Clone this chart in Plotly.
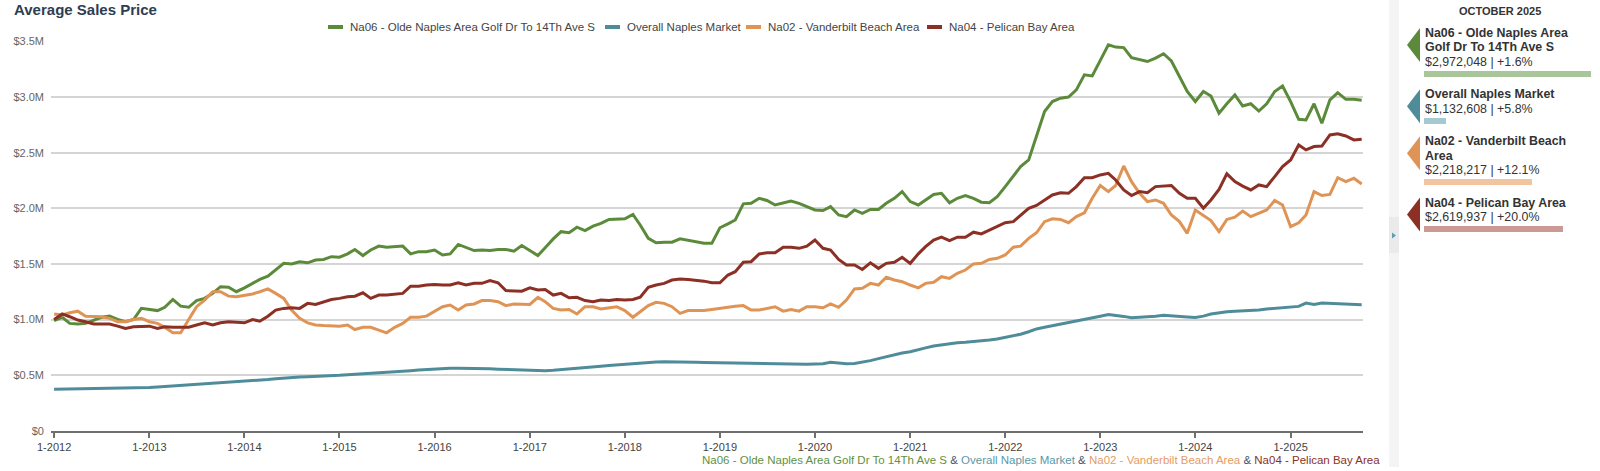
import textwrap
import pandas as pd
import plotly.graph_objects as go

W, H = 1600, 471

# ---------------- data (values in $ millions, monthly from Jan 2012) ----------------
START_MONTH = "2012-01-01"
AS_OF_LABEL = "OCTOBER 2025"

SERIES_NAMES = [
    "Na06 - Olde Naples Area Golf Dr To 14Th Ave S",
    "Overall Naples Market",
    "Na02 - Vanderbilt Beach Area",
    "Na04 - Pelican Bay Area",
]

na06 = [
    0.99, 1.02, 0.965, 0.96, 0.965, 0.99, 1.02, 1.03, 1.0, 0.98, 1.0, 1.10,
    1.09, 1.08, 1.11, 1.18, 1.12, 1.11, 1.17, 1.19, 1.235, 1.295, 1.29, 1.25,
    1.285, 1.325, 1.36, 1.39, 1.445, 1.505, 1.50, 1.52, 1.51, 1.535, 1.54, 1.565,
    1.56, 1.59, 1.63, 1.575, 1.625, 1.66, 1.65, 1.655, 1.66, 1.59, 1.61, 1.61,
    1.625, 1.58, 1.59, 1.675, 1.65, 1.62, 1.625, 1.62, 1.63, 1.63, 1.615, 1.665,
    1.62, 1.575, 1.645, 1.725, 1.79, 1.78, 1.83, 1.80, 1.84, 1.865, 1.90, 1.90,
    1.905, 1.945, 1.85, 1.73, 1.69, 1.695, 1.695, 1.725, 1.71, 1.70, 1.685, 1.685,
    1.825, 1.86, 1.895, 2.04, 2.045, 2.09, 2.07, 2.03, 2.05, 2.065, 2.045, 2.015,
    1.985, 1.98, 2.015, 1.94, 1.925, 1.985, 1.955, 1.99, 1.99, 2.045, 2.09, 2.15,
    2.06, 2.03, 2.075, 2.125, 2.135, 2.05, 2.09, 2.115, 2.09, 2.055, 2.05, 2.105,
    2.195, 2.285, 2.375, 2.435, 2.645, 2.87, 2.96, 2.99, 3.00, 3.065, 3.20, 3.19,
    3.33, 3.47, 3.45, 3.445, 3.355, 3.335, 3.32, 3.35, 3.39, 3.325, 3.185, 3.05,
    2.96, 3.05, 3.01, 2.855, 2.94, 3.02, 2.92, 2.94, 2.875, 2.94, 3.05, 3.10,
    2.96, 2.80, 2.795, 2.94, 2.765, 2.975, 3.04, 2.98, 2.98, 2.972048,
]

overall = [
    0.372, 0.373, 0.375, 0.377, 0.378, 0.380, 0.381, 0.380, 0.380, 0.382, 0.384, 0.385,
    0.388, 0.392, 0.396, 0.402, 0.408, 0.412, 0.418, 0.424, 0.428, 0.432, 0.436, 0.440,
    0.442, 0.445, 0.452, 0.460, 0.468, 0.474, 0.478, 0.482, 0.485, 0.487, 0.490, 0.494,
    0.498, 0.503, 0.508, 0.513, 0.518, 0.522, 0.526, 0.531, 0.536, 0.540, 0.545, 0.550,
    0.555, 0.558, 0.561, 0.562, 0.562, 0.560, 0.558, 0.556, 0.553, 0.550, 0.548, 0.546,
    0.545, 0.542, 0.540, 0.543, 0.548, 0.555, 0.562, 0.568, 0.573, 0.580, 0.587, 0.593,
    0.598, 0.603, 0.608, 0.612, 0.617, 0.620, 0.620, 0.618, 0.617, 0.615, 0.613, 0.612,
    0.610, 0.608, 0.605, 0.603, 0.602, 0.601, 0.600, 0.599, 0.598, 0.597, 0.598, 0.598,
    0.600, 0.603, 0.615, 0.608, 0.602, 0.604, 0.615, 0.630, 0.648, 0.665, 0.683, 0.698,
    0.710, 0.725, 0.745, 0.762, 0.772, 0.780, 0.790, 0.795, 0.800, 0.808, 0.815, 0.825,
    0.838, 0.852, 0.868, 0.890, 0.915, 0.930, 0.945, 0.958, 0.975, 0.990, 1.005, 1.018,
    1.030, 1.045, 1.040, 1.028, 1.015, 1.018, 1.025, 1.030, 1.038, 1.035, 1.030, 1.022,
    1.018, 1.030, 1.050, 1.062, 1.070, 1.075, 1.078, 1.080, 1.085, 1.095, 1.100, 1.108,
    1.112, 1.118, 1.148, 1.135, 1.148, 1.145, 1.140, 1.135, 1.130, 1.132608,
]

na02 = [
    1.05, 1.04, 1.06, 1.075, 1.03, 1.025, 1.025, 1.01, 0.98, 0.98, 1.0, 1.01,
    0.98, 0.965, 0.93, 0.88, 0.88, 1.0, 1.115, 1.175, 1.25, 1.25, 1.21, 1.205,
    1.215, 1.23, 1.25, 1.275, 1.235, 1.19, 1.085, 1.01, 0.97, 0.95, 0.945, 0.94,
    0.94, 0.95, 0.91, 0.93, 0.93, 0.905, 0.88, 0.93, 0.965, 1.02, 1.02, 1.03,
    1.075, 1.115, 1.13, 1.085, 1.13, 1.14, 1.17, 1.17, 1.16, 1.125, 1.14, 1.135,
    1.135, 1.20, 1.16, 1.10, 1.085, 1.09, 1.05, 1.115, 1.115, 1.095, 1.105, 1.115,
    1.08, 1.02, 1.07, 1.125, 1.155, 1.145, 1.115, 1.055, 1.08, 1.08, 1.08, 1.09,
    1.10, 1.115, 1.12, 1.125, 1.085, 1.085, 1.10, 1.115, 1.075, 1.09, 1.075, 1.115,
    1.115, 1.105, 1.14, 1.11, 1.175, 1.275, 1.28, 1.325, 1.31, 1.38, 1.355, 1.34,
    1.31, 1.285, 1.325, 1.335, 1.385, 1.37, 1.415, 1.445, 1.50, 1.505, 1.54, 1.55,
    1.58, 1.65, 1.66, 1.73, 1.78, 1.88, 1.905, 1.90, 1.87, 1.925, 1.96, 2.09,
    2.205, 2.15, 2.205, 2.38, 2.24, 2.135, 2.06, 2.075, 2.045, 1.94, 1.88, 1.775,
    1.985, 1.94, 1.89, 1.79, 1.90, 1.92, 1.975, 1.925, 1.955, 1.985, 2.07, 2.03,
    1.835, 1.87, 1.94, 2.15, 2.115, 2.125, 2.275, 2.24, 2.27, 2.218217,
]

na04 = [
    1.0, 1.05, 1.025, 0.995, 0.98, 0.96, 0.96, 0.96, 0.94, 0.92, 0.935, 0.94,
    0.94, 0.92, 0.935, 0.93, 0.93, 0.93, 0.95, 0.97, 0.95, 0.97, 0.98, 0.975,
    0.97, 1.0, 0.985, 1.03, 1.085, 1.10, 1.105, 1.10, 1.145, 1.135, 1.16, 1.18,
    1.19, 1.205, 1.21, 1.24, 1.19, 1.22, 1.22, 1.23, 1.235, 1.30, 1.30, 1.31,
    1.315, 1.31, 1.31, 1.33, 1.31, 1.325, 1.325, 1.35, 1.33, 1.26, 1.26, 1.255,
    1.285, 1.265, 1.27, 1.22, 1.235, 1.195, 1.20, 1.17, 1.16, 1.175, 1.17, 1.18,
    1.175, 1.18, 1.20, 1.29, 1.31, 1.325, 1.355, 1.365, 1.36, 1.355, 1.345, 1.33,
    1.33, 1.40, 1.43, 1.515, 1.52, 1.59, 1.60, 1.60, 1.65, 1.65, 1.64, 1.66,
    1.715, 1.64, 1.625, 1.54, 1.49, 1.49, 1.45, 1.51, 1.46, 1.505, 1.515, 1.56,
    1.505, 1.59, 1.655, 1.715, 1.74, 1.71, 1.74, 1.74, 1.785, 1.77, 1.805, 1.835,
    1.87, 1.88, 1.94, 2.00, 2.025, 2.07, 2.12, 2.14, 2.135, 2.195, 2.275, 2.275,
    2.30, 2.315, 2.255, 2.165, 2.115, 2.15, 2.14, 2.195, 2.20, 2.205, 2.135, 2.09,
    2.09, 2.00, 2.075, 2.17, 2.31, 2.24, 2.20, 2.165, 2.21, 2.195, 2.285, 2.375,
    2.435, 2.57, 2.525, 2.555, 2.56, 2.66, 2.67, 2.65, 2.615, 2.619937,
]

PANEL_VALUES = [2972048, 1132608, 2218217, 2619937]
PANEL_CHANGES = [1.6, 5.8, 12.1, 20.0]

Y_TICKS_M = [0, 0.5, 1.0, 1.5, 2.0, 2.5, 3.0, 3.5]

# ---------------- styles ----------------
FONT = "Liberation Sans, Arial, sans-serif"
LINE_COLORS = ["#5b8a3a", "#4f8c9a", "#df9455", "#8c2f24"]
BAR_COLORS = ["#a9c59a", "#a6c8d1", "#f1c5a0", "#cb9a95"]
CAPTION_COLORS = ["#5f9141", "#5b98a6", "#e59c5f", "#8b3126"]
AMP_COLOR = "#44546f"


def fx(p):
    return p / W


def fy(p):
    return 1 - p / H


series = [na06, overall, na02, na04]
dates = pd.date_range(START_MONTH, periods=len(na06), freq="MS")

fig = go.Figure()
for name, vals, col in zip(SERIES_NAMES, series, LINE_COLORS):
    fig.add_trace(go.Scatter(
        x=dates, y=[v * 1e6 for v in vals], name=name, mode="lines",
        line=dict(color=col, width=3), showlegend=False,
        xaxis="x", yaxis="y",
    ))

# ---------------- right-hand panel layout ----------------
PANEL_LEFT = 1424
LINE_STEP = 14.4
first_line_y = 33
rows = []
y = first_line_y
for name in SERIES_NAMES:
    lines = textwrap.wrap(name, 24)
    value_y = y + LINE_STEP * len(lines)
    bar_y = value_y + 12
    rows.append(dict(lines=lines, top=y, value_y=value_y, bar_y=bar_y))
    y = bar_y + 20.5

fig.add_trace(go.Bar(
    x=PANEL_VALUES, y=[r["bar_y"] for r in rows], orientation="h",
    width=6, marker=dict(color=BAR_COLORS, line=dict(width=0)),
    xaxis="x2", yaxis="y2", showlegend=False, hoverinfo="skip",
))

annotations = []
shapes = []

# title
annotations.append(dict(
    text="<b>Average Sales Price</b>", x=fx(12), y=fy(10), xref="paper", yref="paper",
    xanchor="left", yanchor="middle", showarrow=False,
    font=dict(family=FONT, size=15, color="#2e3d52"),
))

# legend (custom, to match short line symbols)
LEGEND_X = [328, 605, 746, 927]
LEGEND_Y = 27
for name, col, lx in zip(SERIES_NAMES, LINE_COLORS, LEGEND_X):
    shapes.append(dict(type="line", xref="paper", yref="paper",
                       x0=fx(lx), x1=fx(lx + 15), y0=fy(LEGEND_Y), y1=fy(LEGEND_Y),
                       line=dict(color=col, width=4)))
    annotations.append(dict(
        text=name, x=fx(lx + 20), y=fy(LEGEND_Y), xref="paper", yref="paper",
        xanchor="left", yanchor="middle", showarrow=False,
        font=dict(family=FONT, size=11.5, color="#444444"),
    ))

# bottom caption
amp = f'<span style="color:{AMP_COLOR}"> &amp; </span>'
caption = amp.join(f'<span style="color:{c}">{n}</span>' for n, c in zip(SERIES_NAMES, CAPTION_COLORS))
annotations.append(dict(
    text=caption, x=fx(1382), y=fy(460), xref="paper", yref="paper",
    xanchor="right", yanchor="middle", showarrow=False,
    font=dict(family=FONT, size=11.5),
))

# panel separator strip
shapes.append(dict(type="rect", xref="paper", yref="paper", x0=fx(1389), x1=fx(1399),
                   y0=fy(467), y1=fy(0), fillcolor="#f4f4f4", line=dict(width=0), layer="below"))
shapes.append(dict(type="rect", xref="paper", yref="paper", x0=fx(1389), x1=fx(1399),
                   y0=fy(253), y1=fy(217), fillcolor="#eaeaea", line=dict(width=0), layer="below"))
shapes.append(dict(type="path", xref="paper", yref="paper",
                   path=f"M {fx(1392)},{fy(232.5)} L {fx(1396)},{fy(235.5)} L {fx(1392)},{fy(238.5)} Z",
                   fillcolor="#5d9db4", line=dict(width=0)))

# panel heading
annotations.append(dict(
    text=f"<b>{AS_OF_LABEL}</b>", x=fx(1500), y=fy(11), xref="paper", yref="paper",
    xanchor="center", yanchor="middle", showarrow=False,
    font=dict(family=FONT, size=11, color="#333333"),
))

for r, val, chg, col in zip(rows, PANEL_VALUES, PANEL_CHANGES, LINE_COLORS):
    for i, ln in enumerate(r["lines"]):
        annotations.append(dict(
            text=f"<b>{ln}</b>", x=fx(PANEL_LEFT - 1), y=fy(r["top"] + i * LINE_STEP),
            xref="paper", yref="paper", xanchor="left", yanchor="middle", showarrow=False,
            font=dict(family=FONT, size=12.4, color="#333333"),
        ))
    annotations.append(dict(
        text=f"${val:,.0f} | {chg:+.1f}%", x=fx(PANEL_LEFT - 1), y=fy(r["value_y"]),
        xref="paper", yref="paper", xanchor="left", yanchor="middle", showarrow=False,
        font=dict(family=FONT, size=12.4, color="#333333"),
    ))
    t0, t1 = r["top"] - 5, r["top"] + 29
    shapes.append(dict(
        type="path", xref="paper", yref="paper",
        path=f"M {fx(1407)},{fy((t0 + t1) / 2)} L {fx(1420)},{fy(t0)} L {fx(1420)},{fy(t1)} Z",
        fillcolor=col, line=dict(width=0),
    ))

# ---------------- axes ----------------
PLOT_L, PLOT_R, PLOT_T, PLOT_B = 51, 1363, 41.5, 430.7

fig.update_layout(
    template="none",
    width=W, height=H, autosize=False,
    margin=dict(l=0, r=0, t=0, b=0, pad=0),
    paper_bgcolor="white", plot_bgcolor="white",
    font=dict(family=FONT, size=11, color="#444444"),
    showlegend=False,
    bargap=0,
    xaxis=dict(
        domain=[fx(PLOT_L), fx(PLOT_R)], anchor="y", type="date",
        range=["2011-12-20", "2025-10-06"],
        tick0="2012-01-01", dtick="M12", tickformat="%-m-%Y",
        showgrid=False, zeroline=False,
        showline=True, linecolor="#6f6f6f", linewidth=2,
        ticks="outside", ticklen=5, tickwidth=1.5, tickcolor="#6f6f6f",
        tickfont=dict(family=FONT, size=11, color="#444444"),
        automargin=False, fixedrange=True,
    ),
    yaxis=dict(
        domain=[fy(PLOT_B), fy(PLOT_T)], anchor="x",
        range=[0, 3.5e6],
        tickvals=[v * 1e6 for v in Y_TICKS_M],
        ticktext=["$0" if v == 0 else f"${v:.1f}M" for v in Y_TICKS_M],
        showgrid=True, gridcolor="#d5d5d5", gridwidth=1.5,
        zeroline=False, showline=False, ticks="",
        ticklabelstandoff=6,
        tickfont=dict(family=FONT, size=11, color="#666666"),
        automargin=False, fixedrange=True,
    ),
    xaxis2=dict(
        domain=[fx(PANEL_LEFT), fx(1591)], anchor="y2",
        range=[850000, max(PANEL_VALUES)], visible=False, fixedrange=True,
    ),
    yaxis2=dict(
        domain=[0, 1], anchor="x2", range=[H, 0], visible=False, fixedrange=True,
    ),
    annotations=annotations,
    shapes=shapes,
)

fig.write_html("out.html", config={"displayModeBar": False})
